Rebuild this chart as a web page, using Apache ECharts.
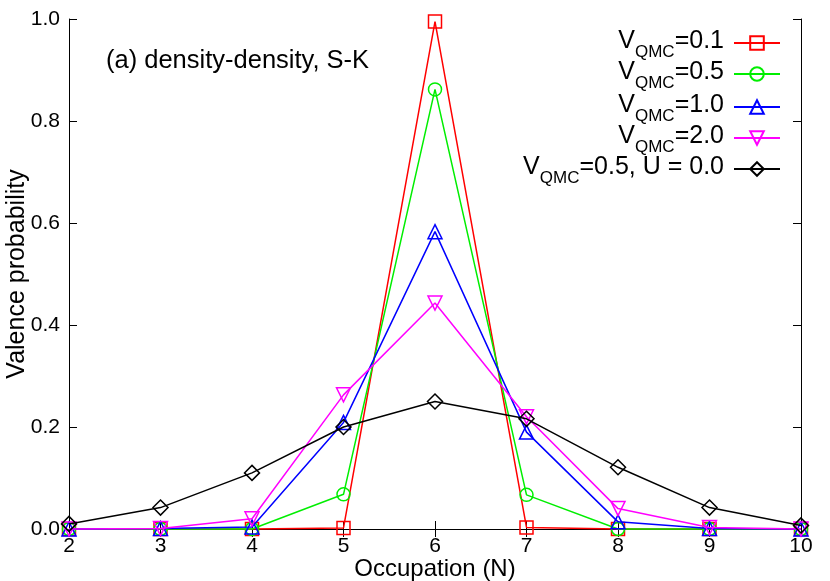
<!DOCTYPE html>
<html>
<head>
<meta charset="utf-8">
<script src="https://cdn.jsdelivr.net/npm/echarts@6/dist/echarts.min.js"></script>
<style>html,body{margin:0;padding:0;background:#fff}#c{width:830px;height:581px}</style>
</head>
<body>
<div id="c"></div>
<script>
const occupation = [2, 3, 4, 5, 6, 7, 8, 9, 10];
const v01 = [0.0, 0.0, 0.0, 0.002, 0.995, 0.003, 0.0, 0.0, 0.0];
const v05 = [0.0, 0.0, 0.0, 0.068, 0.862, 0.067, 0.0, 0.0, 0.0];
const v10 = [0.0, 0.001, 0.004, 0.209, 0.583, 0.190, 0.014, 0.001, 0.0];
const v20 = [0.0, 0.001, 0.020, 0.263, 0.443, 0.220, 0.040, 0.003, 0.0];
const v05U0 = [0.010, 0.042, 0.110, 0.200, 0.250, 0.216, 0.121, 0.042, 0.007];
const yTicks = [0.0, 0.2, 0.4, 0.6, 0.8, 1.0];

const seriesDefs = [
  {name: 'V_QMC=0.1', vals: v01, color: '#ff0000', symbol: 'rect', rot: 0, size: 13, label: '=0.1'},
  {name: 'V_QMC=0.5', vals: v05, color: '#00ee00', symbol: 'circle', rot: 0, size: 13, label: '=0.5'},
  {name: 'V_QMC=1.0', vals: v10, color: '#0000ff', symbol: 'triangle', rot: 0, size: 14, label: '=1.0'},
  {name: 'V_QMC=2.0', vals: v20, color: '#ff00ff', symbol: 'triangle', rot: 180, size: 14, label: '=2.0'},
  {name: 'V_QMC=0.5, U = 0.0', vals: v05U0, color: '#000000', symbol: 'diamond', rot: 0, size: 15, label: '=0.5, U = 0.0'}
];

const font = 'Liberation Sans, Arial, Helvetica, sans-serif';
const chart = echarts.init(document.getElementById('c'));

const legendTops = [29, 60, 93, 124, 155];
const legends = seriesDefs.map((d, i) => ({
  data: [d.name],
  right: 49,
  top: legendTops[i],
  orient: 'vertical',
  align: 'right',
  itemWidth: 46,
  itemHeight: 17,
  itemGap: 10,
  padding: 0,
  selectedMode: false,
  formatter: () => '{v|V}{s|QMC}{v|' + d.label + '}{g|}',
  textStyle: {
    color: '#000',
    fontFamily: font,
    rich: {
      v: {fontSize: 25, fontFamily: font, color: '#000', lineHeight: 28, verticalAlign: 'top'},
      s: {fontSize: 17, fontFamily: font, color: '#000', lineHeight: 17, padding: [15, 0, 0, 0], verticalAlign: 'top'},
      g: {width: 5}
    }
  }
}));

const axisCommon = {
  type: 'value',
  axisLine: {show: true, lineStyle: {color: '#000', width: 1}},
  splitLine: {show: false},
  axisTick: {show: true, inside: true, length: 8, lineStyle: {color: '#000', width: 1}}
};

chart.setOption({
  animation: false,
  backgroundColor: '#fff',
  grid: {left: 69, right: 29, top: 19, bottom: 52, containLabel: false, outerBoundsMode: 'none'},
  legend: legends,
  graphic: [{
    type: 'text',
    left: 106,
    top: 48,
    style: {text: '(a) density-density, S-K', font: '25.5px ' + font, fill: '#000'}
  }],
  xAxis: [
    Object.assign({}, axisCommon, {
      position: 'bottom', min: 2, max: 10, interval: 1,
      name: 'Occupation (N)', nameLocation: 'middle', nameGap: 28, nameMoveOverlap: false,
      nameTextStyle: {fontSize: 24, fontFamily: font, color: '#000'},
      axisLabel: {fontSize: 21, fontFamily: font, color: '#000', margin: 7}
    }),
    Object.assign({}, axisCommon, {
      position: 'top', min: 2, max: 10, interval: 1,
      axisLabel: {show: false}
    })
  ],
  yAxis: [
    Object.assign({}, axisCommon, {
      position: 'left', min: 0, max: 1, interval: 0.2,
      name: 'Valence probability', nameLocation: 'middle', nameGap: 39, nameMoveOverlap: false,
      nameTextStyle: {fontSize: 25, fontFamily: font, color: '#000'},
      axisLabel: {fontSize: 21, fontFamily: font, color: '#000', margin: 9,
        formatter: v => yTicks.find(t => Math.abs(t - v) < 1e-9) !== undefined ? v.toFixed(1) : ''}
    }),
    Object.assign({}, axisCommon, {
      position: 'right', min: 0, max: 1, interval: 0.2,
      axisLabel: {show: false}
    })
  ],
  series: seriesDefs.map((d, i) => ({
    name: d.name,
    type: 'line',
    xAxisIndex: 0,
    yAxisIndex: 0,
    data: occupation.map((x, j) => [x, d.vals[j]]),
    symbol: d.symbol,
    symbolRotate: d.rot,
    symbolSize: d.size,
    showAllSymbol: true,
    clip: false,
    z: 2 + i,
    lineStyle: {color: d.color, width: 1.5},
    itemStyle: {color: 'rgba(255,255,255,0)', borderColor: d.color, borderWidth: 1.5}
  }))
});
</script>
</body>
</html>
